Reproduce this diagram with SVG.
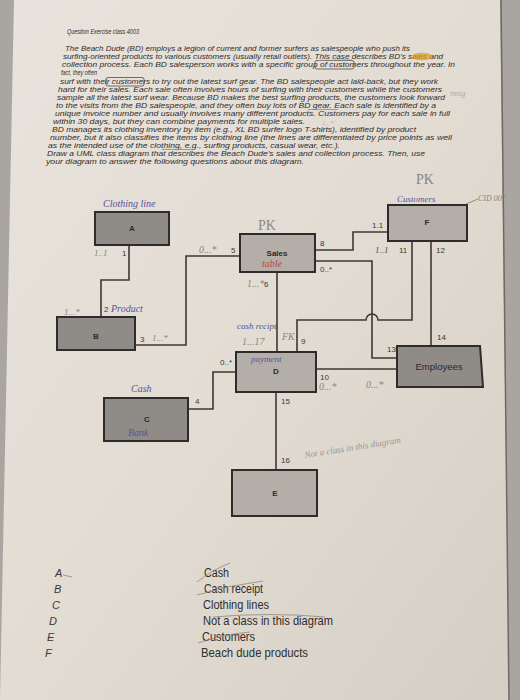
<svg xmlns="http://www.w3.org/2000/svg" width="520" height="700" viewBox="0 0 520 700">
<defs>
<linearGradient id="paper" x1="0" y1="0" x2="1" y2="1">
<stop offset="0" stop-color="#e8e3dc"/>
<stop offset="0.5" stop-color="#e2dcd3"/>
<stop offset="1" stop-color="#d5cec4"/>
</linearGradient>
<style>
.para{font-family:"Liberation Sans",Arial,sans-serif;font-size:6.9px;fill:#2f2d2b;font-style:italic}
.box{stroke:#2e2c2a;stroke-width:2}
.dark{fill:#8f8c87}
.light{fill:#b3afa8}
.lbl{font-family:"Liberation Sans",Arial,sans-serif;font-size:8px;font-weight:bold;fill:#2b2a28;text-anchor:middle}
.num{font-family:"Liberation Sans",Arial,sans-serif;font-size:8px;fill:#3a3836}
.pen{font-family:"Liberation Serif",serif;font-style:italic;font-size:10px;fill:#5a519a}
.pencil{font-family:"Liberation Serif",serif;font-style:italic;font-size:9px;fill:#8a8680}
.line{fill:none;stroke:#3b3936;stroke-width:1.6}
.list{font-family:"Liberation Sans",Arial,sans-serif;font-size:13px;fill:#2f2d2b}
.let{font-family:"Liberation Sans",Arial,sans-serif;font-size:11px;font-style:italic;fill:#3a3836}
.mark{fill:none;stroke:#8c8882;stroke-width:0.8}
</style>
</defs>
<rect width="520" height="700" fill="#a9a6a2"/>
<polygon points="14,0 500,0 509,700 0,700" fill="url(#paper)"/>
<line x1="501" y1="0" x2="509" y2="700" stroke="#6d6a66" stroke-width="1.5"/>

<g id="question-text">
<text class="para" x="67" y="34" textLength="72" lengthAdjust="spacingAndGlyphs">Question Exercise class 4003</text>
<text class="para" x="65" y="51" textLength="345" lengthAdjust="spacingAndGlyphs">The Beach Dude (BD) employs a legion of current and former surfers as salespeople who push its</text>
<text class="para" x="63" y="59" textLength="380" lengthAdjust="spacingAndGlyphs">surfing-oriented products to various customers (usually retail outlets). This case describes BD's sales and</text>
<text class="para" x="62" y="67" textLength="393" lengthAdjust="spacingAndGlyphs">collection process. Each BD salesperson works with a specific group of customers throughout the year. In</text>
<text class="para" x="61" y="75" textLength="36" lengthAdjust="spacingAndGlyphs">fact, they often</text>
<text class="para" x="60" y="84" textLength="378" lengthAdjust="spacingAndGlyphs">surf with their customers to try out the latest surf gear. The BD salespeople act laid-back, but they work</text>
<text class="para" x="58" y="92" textLength="384" lengthAdjust="spacingAndGlyphs">hard for their sales. Each sale often involves hours of surfing with their customers while the customers</text>
<text class="para" x="57" y="100" textLength="388" lengthAdjust="spacingAndGlyphs">sample all the latest surf wear. Because BD makes the best surfing products, the customers look forward</text>
<text class="para" x="56" y="108" textLength="380" lengthAdjust="spacingAndGlyphs">to the visits from the BD salespeople, and they often buy lots of BD gear. Each sale is identified by a</text>
<text class="para" x="55" y="116" textLength="395" lengthAdjust="spacingAndGlyphs">unique invoice number and usually involves many different products. Customers pay for each sale in full</text>
<text class="para" x="53" y="124" textLength="252" lengthAdjust="spacingAndGlyphs">within 30 days, but they can combine payments for multiple sales.</text>
<text class="para" x="52" y="132" textLength="364" lengthAdjust="spacingAndGlyphs">BD manages its clothing inventory by item (e.g., XL BD surfer logo T-shirts), identified by product</text>
<text class="para" x="50" y="140" textLength="402" lengthAdjust="spacingAndGlyphs">number, but it also classifies the items by clothing line (the lines are differentiated by price points as well</text>
<text class="para" x="48" y="148" textLength="292" lengthAdjust="spacingAndGlyphs">as the intended use of the clothing, e.g., surfing products, casual wear, etc.).</text>
<text class="para" x="47" y="156" textLength="378" lengthAdjust="spacingAndGlyphs">Draw a UML class diagram that describes the Beach Dude's sales and collection process. Then, use</text>
<text class="para" x="46" y="164" textLength="258" lengthAdjust="spacingAndGlyphs">your diagram to answer the following questions about this diagram.</text>
<ellipse cx="422" cy="56.5" rx="10" ry="3.8" fill="#e0a020" opacity="0.75"/>
<rect x="315" y="60.5" width="39" height="8.5" rx="2" fill="none" stroke="#3a3836" stroke-width="0.7"/>
<rect x="106" y="77.5" width="38" height="8.5" rx="2" fill="none" stroke="#3a3836" stroke-width="0.7"/>
<line x1="318" y1="60.5" x2="352" y2="60" class="mark"/>
<line x1="162" y1="149.5" x2="192" y2="149.5" class="mark"/>
<line x1="308" y1="109.5" x2="338" y2="109.5" class="mark"/>
</g>
<text class="pencil" x="450" y="96" style="fill:#b2aea8">mng</text>
<text class="pencil" x="322" y="125" style="fill:#b2aea8;font-size:6.5px">1.. *</text>

<g id="connectors">
<path class="line" d="M129,245 V280 H101 V317"/>
<path class="line" d="M135,345 H186 V256 H240"/>
<path class="line" d="M315,250 H353 V232 H388"/>
<path class="line" d="M315,261 H372 V358 H397"/>
<path class="line" d="M412,241 V320 H378 A6,6 0 0 0 366,320 H297 V352"/>
<path class="line" d="M431,241 V346"/>
<path class="line" d="M277,272 V352"/>
<path class="line" d="M316,369 H397"/>
<path class="line" d="M188,409 H213 V372 H236"/>
<path class="line" d="M276,392 V470"/>
<g id="labels">
<text class="pencil" x="94" y="256">1..1</text>
<text class="num" x="122" y="256">1</text>
<text class="pencil" x="64" y="315">1...*</text>
<text class="num" x="104" y="312">2</text>
<text class="pen" x="111" y="312">Product</text>
<text class="num" x="140" y="342">3</text>
<text class="pencil" x="152" y="341">1...*</text>
<text class="pencil" x="199" y="253" style="font-size:10px">0...*</text>
<text class="num" x="231" y="253">5</text>
<text class="num" x="320" y="246">8</text>
<text class="num" x="320" y="272">0..*</text>
<text class="num" x="372" y="228">1.1</text>
<text class="pencil" x="375" y="253" style="fill:#55524e">1..1</text>
<text class="num" x="399" y="253">11</text>
<text class="num" x="436" y="253">12</text>
<text class="pencil" x="247" y="287" style="font-size:10px">1...*</text>
<text class="num" x="264" y="287">6</text>
<text class="pen" x="237" y="329" style="font-size:9px">cash recipt</text>
<text class="pencil" x="242" y="345" style="font-size:10px">1...17</text>
<text class="pencil" x="282" y="340" style="font-size:10px">FK</text>
<text class="num" x="301" y="344">9</text>
<text class="num" x="387" y="352">13</text>
<text class="num" x="437" y="340">14</text>
<text class="num" x="320" y="380">10</text>
<text class="pencil" x="319" y="390" style="font-size:10px">0...*</text>
<text class="pencil" x="366" y="388" style="font-size:10px">0...*</text>
<text class="num" x="220" y="365">0..*</text>
<text class="num" x="195" y="404">4</text>
<text class="num" x="281" y="404">15</text>
<text class="num" x="281" y="463">16</text>
</g>
</g>

<g id="node-A">
<rect class="box dark" x="95" y="212" width="74" height="33"/>
<text class="lbl" x="132" y="231">A</text>
<text class="pen" x="103" y="207">Clothing line</text>
</g>
<g id="node-B">
<rect class="box dark" x="57" y="317" width="78" height="33"/>
<text class="lbl" x="96" y="339">B</text>
</g>
<g id="node-Sales">
<rect class="box light" x="240" y="234" width="75" height="38"/>
<text class="lbl" x="277" y="256">Sales</text>
<text class="pen" x="262" y="267" style="fill:#b04a4a">table</text>
<text class="pencil" x="258" y="230" style="font-size:14px;font-style:normal;fill:#8c8882">PK</text>
</g>
<g id="node-F">
<rect class="box light" x="388" y="205" width="79" height="36"/>
<text class="lbl" x="427" y="225">F</text>
<text class="pen" x="397" y="202" style="font-size:9px">Customers</text>
<text class="pencil" x="416" y="184" style="font-size:14px;font-style:normal">PK</text>
<path d="M466,204 L478,199" stroke="#7b7872" stroke-width="0.8" fill="none"/>
<text class="pencil" x="478" y="201" style="font-size:8px">CID 007</text>
</g>
<g id="node-D">
<rect class="box light" x="236" y="352" width="80" height="40"/>
<text class="pen" x="251" y="362" style="font-size:9px">payment</text>
<text class="lbl" x="276" y="374">D</text>
</g>
<g id="node-C">
<rect class="box dark" x="104" y="398" width="84" height="43"/>
<text class="lbl" x="147" y="422">C</text>
<text class="pen" x="128" y="436">Bank</text>
<text class="pen" x="131" y="392">Cash</text>
</g>
<g id="node-E">
<rect class="box light" x="232" y="470" width="85" height="46"/>
<text class="lbl" x="275" y="496">E</text>
</g>
<g id="node-Employees">
<polygon class="box dark" points="397,346 480,346 483,387 397,387"/>
<text x="439" y="370" style="font-family:'Liberation Sans',Arial,sans-serif;font-size:9.5px;fill:#2b2a28;text-anchor:middle">Employees</text>
</g>

<text class="pencil" x="305" y="458" transform="rotate(-9 305 458)" style="font-size:9px;fill:#9a968f">Not a class in this diagram</text>

<g id="answers">
<text class="let" x="55" y="577">A</text>
<text class="let" x="54" y="593">B</text>
<text class="let" x="52" y="609">C</text>
<text class="let" x="49" y="625">D</text>
<text class="let" x="47" y="641">E</text>
<text class="let" x="45" y="657">F</text>
<text class="list" x="204" y="577" textLength="25" lengthAdjust="spacingAndGlyphs">Cash</text>
<text class="list" x="204" y="593" textLength="59" lengthAdjust="spacingAndGlyphs">Cash receipt</text>
<text class="list" x="203" y="609" textLength="66" lengthAdjust="spacingAndGlyphs">Clothing lines</text>
<text class="list" x="203" y="625" textLength="130" lengthAdjust="spacingAndGlyphs">Not a class in this diagram</text>
<text class="list" x="202" y="641" textLength="53" lengthAdjust="spacingAndGlyphs">Customers</text>
<text class="list" x="201" y="657" textLength="107" lengthAdjust="spacingAndGlyphs">Beach dude products</text>
<path class="mark" d="M197,582 Q212,570 230,563"/>
<path class="mark" d="M197,595 Q230,585 263,581"/>
<path class="mark" d="M213,617 Q270,612 325,617"/>
<path class="mark" d="M198,643 Q225,634 250,632"/>
<path class="mark" d="M63,575 L72,577"/>
</g>
</svg>
